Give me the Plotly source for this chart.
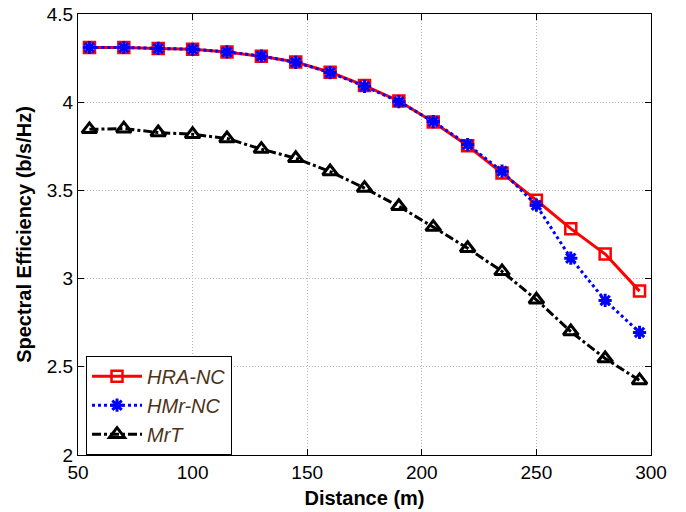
import plotly.graph_objects as go

# Datos
distance = [55, 70, 85, 100, 115, 130, 145, 160, 175, 190, 205, 220, 235, 250, 265, 280, 295]
hra_nc = [4.31, 4.31, 4.305, 4.30, 4.285, 4.26, 4.228, 4.17, 4.094, 4.007, 3.888, 3.753, 3.598, 3.444, 3.283, 3.139, 2.929]
hmr_nc = [4.31, 4.31, 4.305, 4.30, 4.285, 4.262, 4.226, 4.168, 4.09, 4.003, 3.89, 3.76, 3.609, 3.416, 3.116, 2.876, 2.695]
mrt = [3.846, 3.85, 3.828, 3.818, 3.794, 3.734, 3.682, 3.607, 3.513, 3.41, 3.292, 3.172, 3.041, 2.88, 2.70, 2.547, 2.423]

x_ticks = [50, 100, 150, 200, 250, 300]
y_ticks = [2, 2.5, 3, 3.5, 4, 4.5]
y_labels = ['2', '2.5', '3', '3.5', '4', '4.5']

fig = go.Figure()

fig.add_trace(go.Scatter(x=distance, y=hra_nc, mode='lines+markers', name='HRA-NC',
                         line=dict(color='red', width=3),
                         marker=dict(symbol='square-open', size=11, color='red', line=dict(width=2.5, color='red'))))
fig.add_trace(go.Scatter(x=distance, y=hmr_nc, mode='lines+markers', name='HMr-NC',
                         line=dict(color='blue', width=3, dash='dot'),
                         marker=dict(symbol='asterisk-open', size=11, color='blue', line=dict(width=3, color='blue'))))
fig.add_trace(go.Scatter(x=distance, y=mrt, mode='lines+markers', name='MrT',
                         line=dict(color='black', width=3, dash='dashdot'),
                         marker=dict(symbol='triangle-up-open', size=13, color='black', line=dict(width=3, color='black'))))

axis_style = dict(showline=True, linecolor='black', linewidth=1, mirror='allticks',
                  ticks='inside', ticklen=6, tickcolor='black', automargin=False,
                  ticklabeloverflow='allow',
                  showgrid=True, gridcolor='#b4b4b4', griddash='1px,2px', gridwidth=1,
                  zeroline=False, tickfont=dict(family='Liberation Sans', size=19, color='black'))

fig.update_xaxes(range=[50, 300], tickvals=x_ticks,
                 title=dict(text='<b>Distance (m)</b>', font=dict(family='Liberation Sans', size=20, color='black'), standoff=9),
                 **axis_style)
fig.update_yaxes(range=[2, 4.5], tickvals=y_ticks, ticktext=y_labels,
                 title=dict(text='<b>Spectral Efficiency (b/s/Hz)</b>', font=dict(family='Liberation Sans', size=20, color='black'), standoff=9),
                 **axis_style)

fig.update_layout(
    width=686, height=512,
    margin=dict(l=78, r=35, t=14, b=57),
    plot_bgcolor='white', paper_bgcolor='white',
    legend=dict(x=0.014, y=0.113, xanchor='left', yanchor='middle',
                bgcolor='white', bordercolor='black', borderwidth=1,
                font=dict(family='Liberation Sans', size=20, color='#4d3319', style='italic'),
                tracegroupgap=0, itemwidth=50),
    showlegend=True,
)

# quitar el margen por defecto del body para que la figura empiece en (0, 0)
fig.write_html("out.html", config={'displayModeBar': False},
               post_script="document.body.style.margin='0';")
